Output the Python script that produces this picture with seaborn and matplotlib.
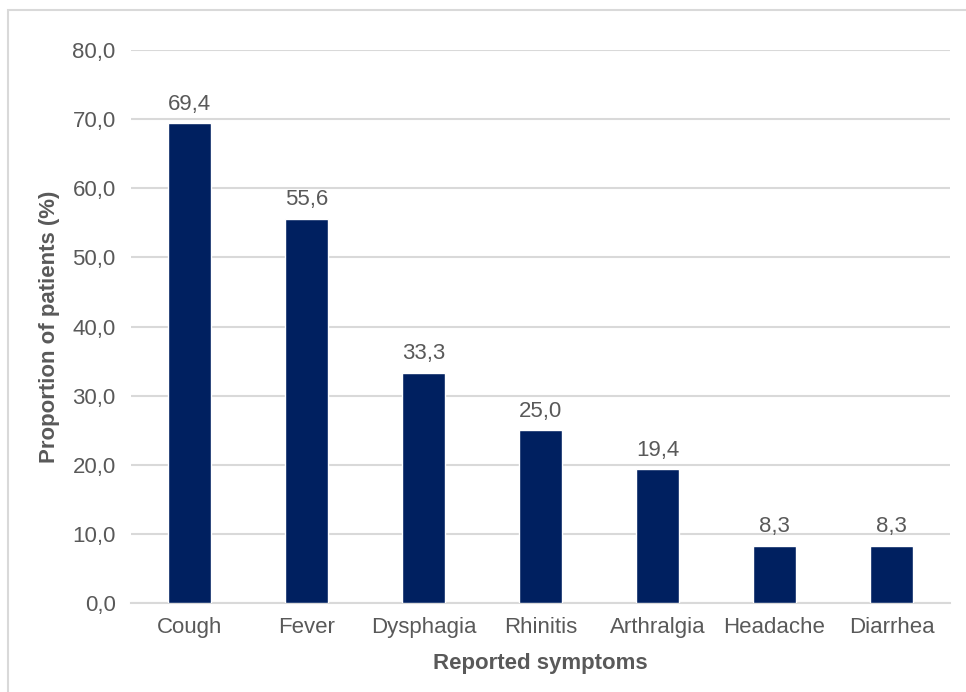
import matplotlib.pyplot as plt
import matplotlib.patches as mpatches
import pandas as pd
import seaborn as sns

# ── Data ──────────────────────────────────────────────────────────────────────
symptoms = ["Cough", "Fever", "Dysphagia", "Rhinitis", "Arthralgia", "Headache", "Diarrhea"]
proportions = [69.4, 55.6, 33.3, 25.0, 19.4, 8.3, 8.3]
y_ticks = [0, 10, 20, 30, 40, 50, 60, 70, 80]

TEXT = "#595959"
BAR = "#002060"
GRID = "#d9d9d9"
FS = 16

sns.set_style("white")
plt.rcParams["font.family"] = ["Liberation Sans", "DejaVu Sans"]

df = pd.DataFrame({"symptom": symptoms, "pct": proportions})

fig = plt.figure(figsize=(9.66, 6.92), dpi=100)
ax = fig.add_axes([0.1356, 0.1286, 0.8478, 0.7991])

sns.barplot(data=df, x="symptom", y="pct", color=BAR, saturation=1,
            width=0.37, ax=ax, zorder=3)

labels = [f"{v:.1f}".replace(".", ",") for v in proportions]
ax.bar_label(ax.containers[0], labels=labels, padding=6, fontsize=FS, color=TEXT)

ax.set_ylim(0, 80)
ax.set_xlim(-0.5, len(symptoms) - 0.5)
ax.set_yticks(y_ticks)
ax.set_yticklabels([f"{t:.1f}".replace(".", ",") for t in y_ticks])
ax.yaxis.grid(True, color=GRID, linewidth=1.5, zorder=0)
ax.set_axisbelow(True)
ax.tick_params(axis="both", length=0, labelsize=FS, labelcolor=TEXT)
ax.tick_params(axis="y", pad=11)
ax.tick_params(axis="x", pad=10)
for s in ["top", "right", "left"]:
    ax.spines[s].set_visible(False)
ax.spines["bottom"].set_color(GRID)
ax.spines["bottom"].set_linewidth(1.5)

ax.set_xlabel("Reported symptoms", fontsize=FS, fontweight="bold", color=TEXT, labelpad=11)
ax.set_ylabel("Proportion of patients (%)", fontsize=FS, fontweight="bold", color=TEXT, labelpad=9)

# light frame around the chart area
fig.patches.append(mpatches.Rectangle(
    (8 / 966, -0.05), 1.1, 1 - 10 / 692 + 0.05, transform=fig.transFigure,
    fill=False, edgecolor="#d9d9d9", linewidth=1.5))

fig.savefig("out.png", dpi=100)
